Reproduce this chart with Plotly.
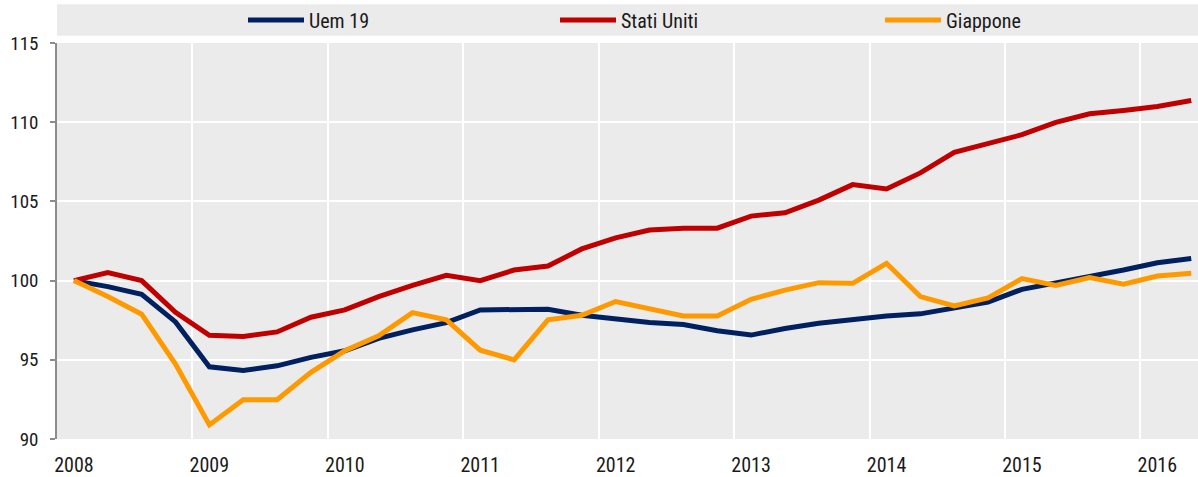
import plotly.graph_objects as go

quarters = list(range(34))  # 2008Q1 .. 2016Q2
year_labels = ["2008", "2009", "2010", "2011", "2012", "2013", "2014", "2015", "2016"]
year_pos = [0, 4, 8, 12, 16, 20, 24, 28, 32]

uem19 = [100.0, 99.62, 99.14, 97.39, 94.56, 94.33, 94.62, 95.15, 95.57, 96.35,
         96.89, 97.35, 98.15, 98.15, 98.19, 97.81, 97.6, 97.35, 97.23, 96.83,
         96.56, 96.98, 97.31, 97.52, 97.77, 97.9, 98.24, 98.65, 99.45, 99.83,
         100.25, 100.67, 101.13, 101.40]
stati_uniti = [100.0, 100.5, 100.0, 98.0, 96.55, 96.47, 96.76, 97.69, 98.15, 98.99,
               99.7, 100.33, 100.0, 100.67, 100.92, 102.0, 102.7, 103.19, 103.31, 103.31,
               104.07, 104.28, 105.08, 106.06, 105.79, 106.8, 108.1, 108.65, 109.21, 109.99,
               110.53, 110.74, 110.99, 111.37]
giappone = [100.0, 98.99, 97.88, 94.73, 90.89, 92.48, 92.48, 94.21, 95.57, 96.51,
            97.98, 97.52, 95.61, 95.0, 97.52, 97.81, 98.68, 98.24, 97.77, 97.77,
            98.82, 99.4, 99.87, 99.83, 101.09, 98.99, 98.4, 98.9, 100.13, 99.7,
            100.19, 99.77, 100.29, 100.46]

FONT = "Liberation Sans Narrow, Arial Narrow, Roboto Condensed, Arial, sans-serif"
BG = "#ebebeb"
TXT = "#1a1a1a"

fig = go.Figure()
series = [("Uem 19", uem19, "#002060", "legend"),
          ("Stati Uniti", stati_uniti, "#c00000", "legend2"),
          ("Giappone", giappone, "#ff9900", "legend3")]
for name, vals, col, lg in series:
    fig.add_trace(go.Scatter(x=quarters, y=vals, mode="lines", name=name,
                             line=dict(color=col, width=5), legend=lg, showlegend=True))

fig.add_hline(y=100, line=dict(color="#6e6e6e", width=1.2), layer="below")

# legend band
fig.add_shape(type="rect", xref="paper", yref="paper", x0=0, x1=1,
              y0=1.018, y1=1.098, fillcolor=BG, line=dict(width=0), layer="below")

leg_common = dict(orientation="h", bgcolor="rgba(0,0,0,0)", borderwidth=0,
                  font=dict(family=FONT, size=20, color=TXT),
                  xanchor="left", yanchor="middle", y=1.058, itemwidth=56)
fig.update_layout(
    width=1198, height=477,
    margin=dict(l=57, r=0, t=43, b=38),
    paper_bgcolor="white", plot_bgcolor=BG,
    showlegend=True,
    font=dict(family=FONT, size=19, color=TXT),
    legend=dict(x=(243 - 57) / 1141, **leg_common),
    legend2=dict(x=(555 - 57) / 1141, **leg_common),
    legend3=dict(x=(880 - 57) / 1141, **leg_common),
    xaxis=dict(range=[-0.5, 33.2], tickmode="array", tickvals=year_pos, ticktext=year_labels,
               tickfont=dict(size=20),
               showgrid=False, zeroline=False, showline=False, ticks="",
               ticklabelstandoff=12,
               minor=dict(tickmode="linear", tick0=-0.5, dtick=4, showgrid=True,
                          gridcolor="white", gridwidth=2, ticks="")),
    yaxis=dict(range=[90, 115], tickmode="linear", tick0=90, dtick=5,
               tickfont=dict(size=19),
               showgrid=True, gridcolor="white", gridwidth=2, zeroline=False,
               showline=True, linecolor="#8c8c8c", linewidth=1.5,
               ticks="outside", ticklen=5, tickcolor="#8c8c8c", tickwidth=1.5,
               ticklabelstandoff=8),
)

fig.write_html("out.html", config={"displayModeBar": False},
               post_script="document.body.style.margin='0';document.body.style.overflow='hidden';")
